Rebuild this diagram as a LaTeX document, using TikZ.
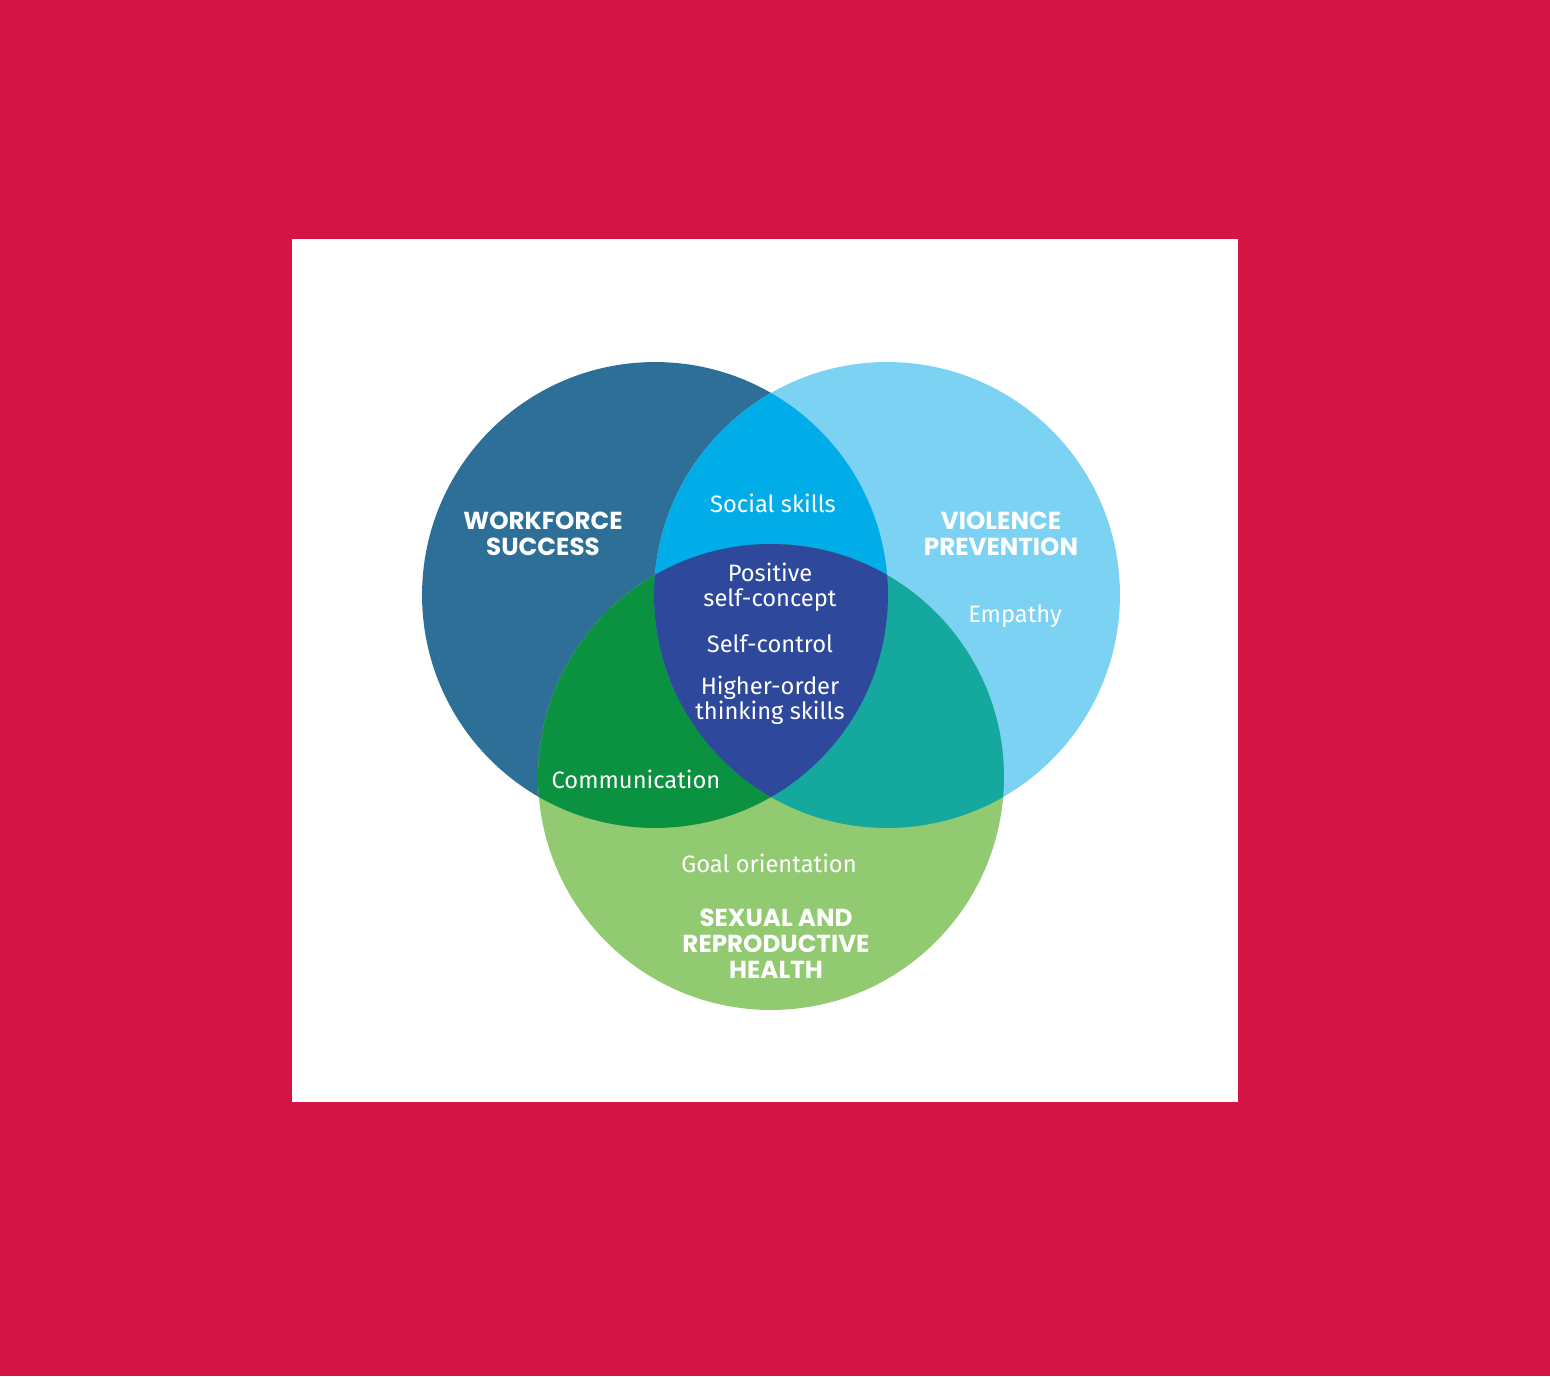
\documentclass[tikz,border=0pt]{standalone}
\usepackage{fontspec}
\setmainfont{Fira Sans}
\newfontfamily\headfont{Poppins}
\definecolor{bgred}{HTML}{D31445}
\definecolor{cleft}{HTML}{2E6F98}
\definecolor{cright}{HTML}{7CD2F3}
\definecolor{cbottom}{HTML}{92CA72}
\definecolor{clr}{HTML}{00ADE8}
\definecolor{clb}{HTML}{0B9240}
\definecolor{crb}{HTML}{14A89E}
\definecolor{ccenter}{HTML}{2E499C}
\tikzset{
  body/.style={text=white, align=center, font=\fontsize{13.5}{14.2}\selectfont},
  head/.style={text=white, align=center, font=\headfont\bfseries\fontsize{14}{14.8}\selectfont},
}
\begin{document}
\begin{tikzpicture}[x=0.02cm,y=-0.02cm]
\fill[bgred] (0,0) rectangle (1550,1376);
\useasboundingbox (0,0) rectangle (1550,1376);
\fill[white] (292,239) rectangle (1238,1102);
\coordinate (L) at (655,595);
\coordinate (R) at (887,595);
\coordinate (B) at (771,777);
\def\rr{4.66cm}
\fill[cleft] (L) circle [radius=\rr];
\fill[cright] (R) circle [radius=\rr];
\fill[cbottom] (B) circle [radius=\rr];
\begin{scope}
  \clip (L) circle [radius=\rr];
  \fill[clr] (R) circle [radius=\rr];
  \fill[clb] (B) circle [radius=\rr];
\end{scope}
\begin{scope}
  \clip (R) circle [radius=\rr];
  \fill[crb] (B) circle [radius=\rr];
  \clip (L) circle [radius=\rr];
  \fill[ccenter] (B) circle [radius=\rr];
\end{scope}
\node[head] (ws) at (543,534) {WORKFORCE\\SUCCESS};
\node[head] (vp) at (1001,534) {VIOLENCE\\PREVENTION};
\node[head] (srh) at (776,944) {SEXUAL AND\\REPRODUCTIVE\\HEALTH};
\node[body] (ss) at (773,503) {Social skills};
\node[body] (psc) at (770,587) {Positive\\self-concept};
\node[body] (sc) at (770,644) {Self-control};
\node[body] (hots) at (770,700) {Higher-order\\thinking skills};
\node[body] (emp) at (1015,616) {Empathy};
\node[body] (com) at (636,779) {Communication};
\node[body] (go) at (769,863) {Goal orientation};
\end{tikzpicture}
\end{document}
